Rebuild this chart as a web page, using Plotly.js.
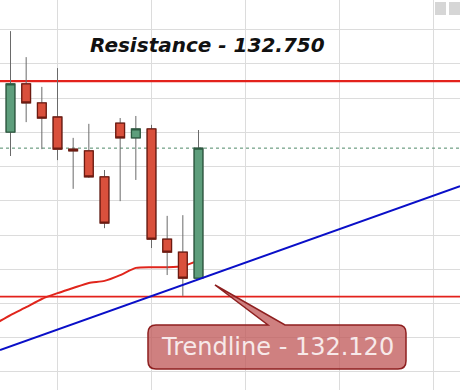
<!DOCTYPE html>
<html>
<head>
<meta charset="utf-8">
<script src="https://cdn.plot.ly/plotly-3.0.1.min.js"></script>
<style>html,body{margin:0;padding:0;background:#fff;}#chart{width:460px;height:390px;}</style>
</head>
<body>
<div id="chart"></div>
<script>
// ---- data ----
var candleIdx = [0,1,2,3,4,5,6,7,8,9,10,11,12];
var openP  = [132.601,132.742,132.686,132.645,132.551,132.546,132.470,132.627,132.584,132.610,132.288,132.250,132.174];
var highP  = [132.896,132.820,132.733,132.788,132.584,132.625,132.490,132.642,132.648,132.622,132.356,132.358,132.607];
var lowP   = [132.531,132.630,132.551,132.519,132.435,132.467,132.320,132.399,132.461,132.262,132.183,132.122,132.174];
var closeP = [132.742,132.686,132.642,132.551,132.546,132.470,132.335,132.584,132.610,132.288,132.250,132.174,132.554];

var maIdx = [-1,0,1,2,3,4,5,6,7,8,9,10,11,12];
var maVal = [132.040,132.066,132.089,132.113,132.130,132.145,132.160,132.166,132.183,132.204,132.206,132.206,132.209,132.226];

var trendIdx = [-0.67, 28.69];
var trendVal = [131.964, 132.443];

var resistanceLevel = 132.75;
var supportLevel = 132.12;
var lastPrice = 132.554;

var resistanceLabel = "Resistance - 132.750";
var trendLabel = "Trendline - 132.120";

// ---- layout helpers ----
var W = 460, H = 390;
var xRange = [-0.67, 28.69];
var yRange = [131.847, 132.987];
function px(x){ return x / W; }
function py(y){ return 1 - y / H; }

var bodyHigh = openP.map(function(o,i){ return Math.max(o, closeP[i]); });
var bodyLow  = openP.map(function(o,i){ return Math.min(o, closeP[i]); });

var traces = [
  { type:'scatter', mode:'lines', x:maIdx, y:maVal, line:{color:'#e0251c', width:2, shape:'spline', smoothing:0.6}, hoverinfo:'skip', xaxis:'x', yaxis:'y' },
  { type:'scatter', mode:'lines', x:xRange, y:[resistanceLevel,resistanceLevel], line:{color:'#e3221c', width:2.4}, hoverinfo:'skip', xaxis:'x', yaxis:'y' },
  { type:'scatter', mode:'lines', x:xRange, y:[supportLevel,supportLevel], line:{color:'#e3221c', width:1.6}, hoverinfo:'skip', xaxis:'x', yaxis:'y' },
  { type:'scatter', mode:'lines', x:xRange, y:[lastPrice,lastPrice], line:{color:'#4f8a68', width:1, dash:'dot'}, hoverinfo:'skip', xaxis:'x', yaxis:'y' },
  // wicks
  { type:'candlestick', x:candleIdx, open:openP, high:highP, low:lowP, close:closeP,
    whiskerwidth:0,
    increasing:{line:{color:'#6a6a6a', width:1}, fillcolor:'#5e9e7c'},
    decreasing:{line:{color:'#6a6a6a', width:1}, fillcolor:'#d9503c'},
    hoverinfo:'skip', xaxis:'x2', yaxis:'y2' },
  // bodies
  { type:'candlestick', x:candleIdx, open:openP, high:bodyHigh, low:bodyLow, close:closeP,
    whiskerwidth:0,
    increasing:{line:{color:'#2c5a40', width:1.3}, fillcolor:'#5e9e7c'},
    decreasing:{line:{color:'#6e1a10', width:1.3}, fillcolor:'#d9503c'},
    hoverinfo:'skip', xaxis:'x2', yaxis:'y2' },
  { type:'scatter', mode:'lines', x:trendIdx, y:trendVal, line:{color:'#0a0fc8', width:2}, hoverinfo:'skip', xaxis:'x2', yaxis:'y2' }
];

// callout path (pixel -> paper)
var bx0=148, bx1=406, by0=325, by1=369, r=8;
var p = [
  'M', px(bx0+r), py(by0),
  'L', px(268), py(by0),
  'L', px(215), py(285),
  'L', px(285), py(by0),
  'L', px(bx1-r), py(by0),
  'Q', px(bx1), py(by0), px(bx1), py(by0+r),
  'L', px(bx1), py(by1-r),
  'Q', px(bx1), py(by1), px(bx1-r), py(by1),
  'L', px(bx0+r), py(by1),
  'Q', px(bx0), py(by1), px(bx0), py(by1-r),
  'L', px(bx0), py(by0+r),
  'Q', px(bx0), py(by0), px(bx0+r), py(by0),
  'Z'
];
var pathStr = '';
for (var i=0;i<p.length;i++){
  var t = p[i];
  pathStr += (typeof t === 'string') ? t : (t.toFixed(5) + (typeof p[i+1]==='number' ? ',' : ' '));
}

var axisBase = { range:xRange, showticklabels:false, ticks:'', zeroline:false, showline:false, fixedrange:true };
var layout = {
  width:W, height:H,
  margin:{l:0,r:0,t:0,b:0,pad:0},
  paper_bgcolor:'#ffffff', plot_bgcolor:'#ffffff',
  showlegend:false,
  boxgap:0.2,
  xaxis: Object.assign({}, axisBase, {showgrid:true, gridcolor:'#dcdcdc', gridwidth:1, tick0:3, dtick:6, rangeslider:{visible:false}}),
  yaxis: { range:yRange, showticklabels:false, ticks:'', zeroline:false, showline:false, showgrid:true, gridcolor:'#dcdcdc', gridwidth:1, tick0:0, dtick:0.1, fixedrange:true },
  xaxis2: Object.assign({}, axisBase, {overlaying:'x', showgrid:false, rangeslider:{visible:false}}),
  yaxis2: { range:yRange, overlaying:'y', showticklabels:false, ticks:'', zeroline:false, showline:false, showgrid:false, fixedrange:true },
  shapes: [
    { type:'path', xref:'paper', yref:'paper', path:pathStr, fillcolor:'rgba(192,88,88,0.76)', line:{color:'#8e1f1f', width:1.5}, layer:'above' },
    { type:'rect', xref:'paper', yref:'paper', x0:px(435), x1:px(446), y0:py(15), y1:py(2), fillcolor:'#d6d6d6', line:{width:0} },
    { type:'rect', xref:'paper', yref:'paper', x0:px(449), x1:px(460), y0:py(15), y1:py(2), fillcolor:'#d6d6d6', line:{width:0} }
  ],
  annotations: [
    { xref:'paper', yref:'paper', x:px(207), y:py(45), xanchor:'center', yanchor:'middle', showarrow:false,
      text:'<b><i>' + resistanceLabel + '</i></b>', font:{family:'DejaVu Sans', size:20, color:'#111111'} },
    { xref:'paper', yref:'paper', x:px(277), y:py(347), xanchor:'center', yanchor:'middle', showarrow:false,
      text:trendLabel, font:{family:'DejaVu Sans', size:24, color:'#f7e9e9'} }
  ]
};

Plotly.newPlot('chart', traces, layout, {displayModeBar:false, staticPlot:true});
</script>
</body>
</html>
